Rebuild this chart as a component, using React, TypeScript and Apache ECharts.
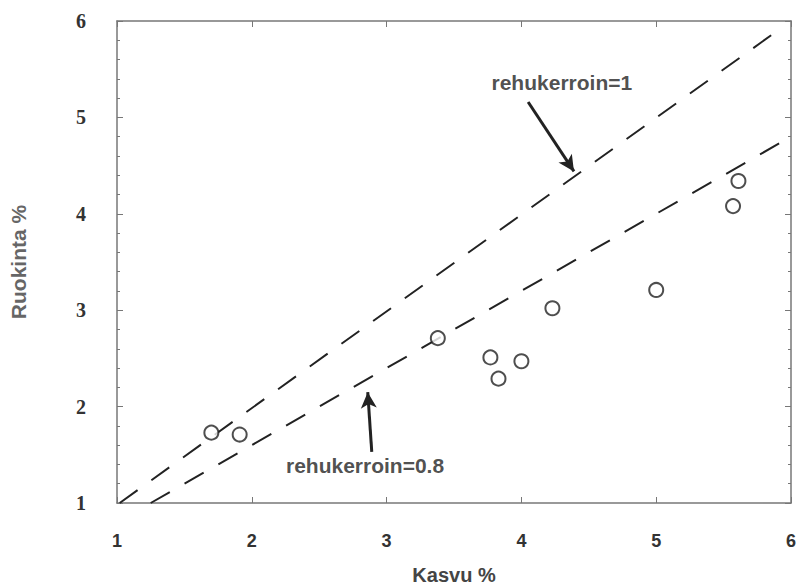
import React, { useEffect, useRef } from "react";
import * as echarts from "echarts";

// Kasvu % (x) vs Ruokinta % (y)
const kasvu = [1.7, 1.91, 3.38, 3.77, 3.83, 4.0, 4.23, 5.0, 5.57, 5.61];
const ruokinta = [1.73, 1.71, 2.71, 2.51, 2.29, 2.47, 3.02, 3.21, 4.08, 4.34];

// Reference lines (feed coefficient) endpoints
const line1X = [1.02, 5.95];
const line1Y = [1.0, 5.95];
const line08X = [1.25, 5.95];
const line08Y = [1.0, 4.76];

const xTicks = [1, 2, 3, 4, 5, 6];
const yTicks = [1, 2, 3, 4, 5, 6];

const annoText = ["rehukerroin=1", "rehukerroin=0.8"];
const annoX = [4.3, 2.84];
const annoY = [5.36, 1.39];
const arrowFrom = [[4.05, 5.16], [2.89, 1.53]];
const arrowTo = [[4.39, 4.44], [2.86, 2.15]];

export default function App() {
  const ref = useRef<HTMLDivElement>(null);
  useEffect(() => {
    if (!ref.current) return;
    document.body.style.margin = "0";
    document.body.style.overflow = "hidden";
    const chart = echarts.init(ref.current, null, { renderer: "svg" });
    const axisCol = "#777";
    const sans = "'Liberation Sans', Arial, sans-serif";
    const serif = "'Liberation Serif', 'Times New Roman', serif";
    const baseX = {
      type: "value" as const,
      min: xTicks[0],
      max: xTicks[xTicks.length - 1],
      interval: 1,
      splitLine: { show: false },
      axisLine: { show: true, lineStyle: { color: axisCol, width: 1.5 } },
      axisTick: { show: true, inside: true, length: 6, lineStyle: { color: axisCol } },
    };
    const baseY = {
      type: "value" as const,
      min: yTicks[0],
      max: yTicks[yTicks.length - 1],
      interval: 1,
      splitLine: { show: false },
      axisLine: { show: true, lineStyle: { color: axisCol, width: 1.5 } },
      axisTick: { show: true, inside: true, length: 6, lineStyle: { color: axisCol } },
      minorTick: { show: true, splitNumber: 5, length: 3, lineStyle: { color: axisCol } },
    };
    chart.setOption({
      animation: false,
      backgroundColor: "#fff",
      grid: { left: 117, right: 5, top: 21, bottom: 82, outerBoundsMode: "none", containLabel: false },
      xAxis: [
        {
          ...baseX,
          position: "bottom",
          name: "Kasvu %",
          nameLocation: "middle",
          nameGap: 62,
          nameTextStyle: { fontFamily: sans, fontWeight: "bold", fontSize: 20, color: "#444" },
          axisLabel: { margin: 29, fontFamily: sans, fontWeight: "bold", fontSize: 18, color: "#333" },
        },
        { ...baseX, position: "top", axisLabel: { show: false } },
      ],
      yAxis: [
        {
          ...baseY,
          position: "left",
          name: "Ruokinta %",
          nameLocation: "middle",
          nameGap: 88,
          nameTextStyle: { fontFamily: sans, fontWeight: "bold", fontSize: 21, color: "#666" },
          axisLabel: { margin: 31, fontFamily: serif, fontWeight: "bold", fontSize: 20, color: "#333" },
        },
        { ...baseY, position: "right", axisLabel: { show: false } },
      ],
      series: [
        {
          type: "line",
          data: line1X.map((x, i) => [x, line1Y[i]]),
          symbol: "none",
          lineStyle: { color: "#222", width: 2, type: [22, 17] },
        },
        {
          type: "line",
          data: line08X.map((x, i) => [x, line08Y[i]]),
          symbol: "none",
          lineStyle: { color: "#222", width: 2, type: [22, 17] },
        },
        {
          type: "scatter",
          data: kasvu.map((x, i) => [x, ruokinta[i]]),
          symbol: "circle",
          symbolSize: 14,
          itemStyle: { color: "#fff", borderColor: "#222", borderWidth: 2 },
          z: 5,
        },
        {
          type: "scatter",
          data: annoText.map((t, i) => [annoX[i], annoY[i], t]),
          symbolSize: 1,
          itemStyle: { color: "rgba(0,0,0,0)" },
          label: {
            show: true,
            position: "inside",
            formatter: (p: any) => p.data[2],
            fontFamily: sans,
            fontWeight: "bold",
            fontSize: 21,
            color: "#222",
          },
          markLine: {
            silent: true,
            symbol: ["none", "arrow"],
            symbolSize: [12, 16],
            label: { show: false },
            lineStyle: { color: "#222", width: 3, type: "solid" },
            data: arrowFrom.map((f, i) => [{ coord: f }, { coord: arrowTo[i] }]),
          },
          z: 6,
        },
      ],
    });
    return () => chart.dispose();
  }, []);
  return <div ref={ref} style={{ width: 796, height: 585 }} />;
}
